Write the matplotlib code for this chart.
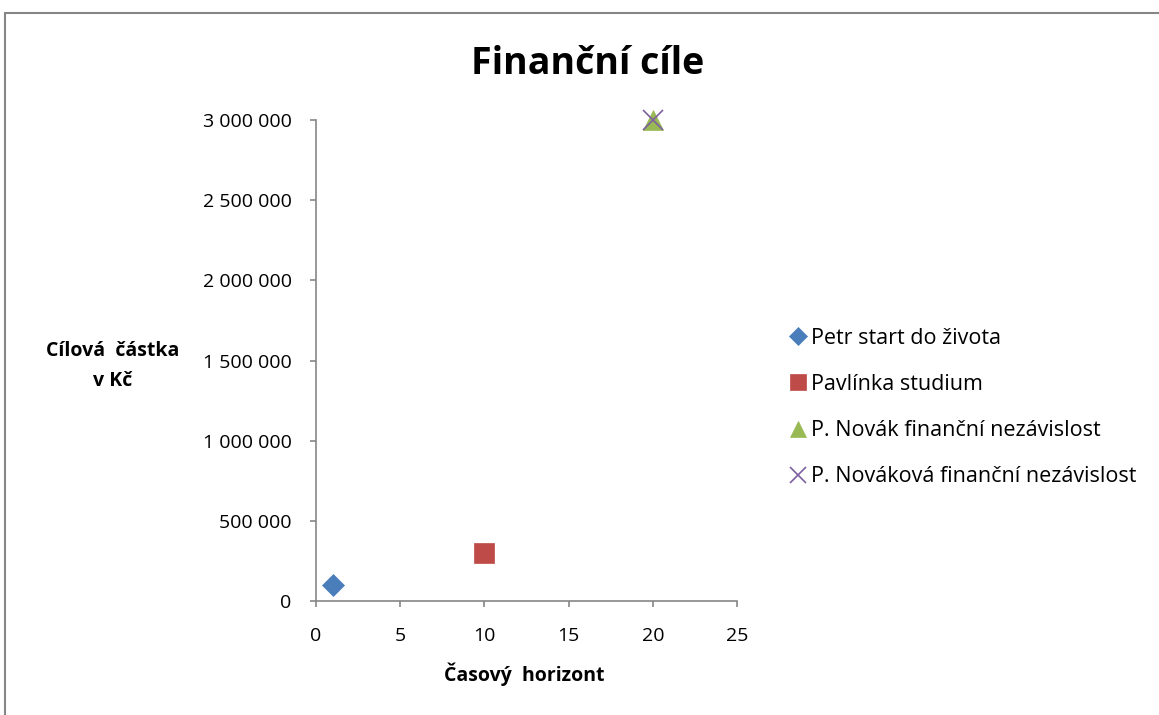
import matplotlib
matplotlib.use("Agg")
import matplotlib.pyplot as plt
from matplotlib.patches import Rectangle
from matplotlib.ticker import FuncFormatter

plt.rcParams['font.family'] = ['Open Sans', 'DejaVu Sans']

# financial goals: years until goal, target amount in CZK
names = ["Petr start do života", "Pavlínka studium",
         "P. Novák finanční nezávislost", "P. Nováková finanční nezávislost"]
years = [1, 10, 20, 20]
amounts = [100000, 300000, 3000000, 3000000]
markers = ["D", "s", "^", "x"]
colors = ["#4a7ebb", "#be4b48", "#98b954", "#7d60a0"]
sizes = [11, 14, 14, 14]

fig = plt.figure(figsize=(11.59, 7.15), dpi=100)
ax = fig.add_axes([0.2726, 0.1594, 0.3633, 0.6728])

for n, x, y, m, c, s in zip(names, years, amounts, markers, colors, sizes):
    ax.plot([x], [y], linestyle="none", marker=m, color=c, markersize=s,
            markeredgewidth=1.2 if m == "x" else 0.5, label=n)

ax.set_xlim(0, 25)
ax.set_ylim(0, 3000000)
ax.set_xticks([0, 5, 10, 15, 20, 25])
ax.set_yticks(range(0, 3000001, 500000))
ax.yaxis.set_major_formatter(FuncFormatter(lambda v, p: f"{int(v):,}".replace(",", " ")))
ax.tick_params(labelsize=14, color="#868686", length=4.5, width=1.2,
               labelcolor="#000000")
ax.tick_params(axis="x", pad=14)
ax.tick_params(axis="y", pad=13)

for side in ("top", "right"):
    ax.spines[side].set_visible(False)
for side in ("left", "bottom"):
    ax.spines[side].set_color("#868686")
    ax.spines[side].set_linewidth(1.2)

for m in ax.lines:
    m.set_clip_on(False)

fig.text(0.507, 0.91, "Finanční cíle", ha="center", va="center",
         fontsize=27, fontweight="bold")
fig.text(0.0975, 0.488, "Cílová  částka\nv Kč", ha="center", va="center",
         fontsize=14, fontweight="bold", linespacing=1.7)
fig.text(0.452, 0.057, "Časový  horizont", ha="center", va="center",
         fontsize=14, fontweight="bold")

ax.legend(loc="center left", bbox_to_anchor=(0.6725, 0.43), bbox_transform=fig.transFigure,
          frameon=False, fontsize=15.5, handlelength=0.7, handletextpad=0.25,
          labelspacing=1.17, markerscale=0.85, borderpad=0)

# chart area border
fig.patches.append(Rectangle((5 / 1159, -0.1), 2, (715 - 13) / 715 + 0.1,
                             transform=fig.transFigure, fill=False,
                             edgecolor="#868686", linewidth=1.5))

fig.savefig("out.png", dpi=100)
